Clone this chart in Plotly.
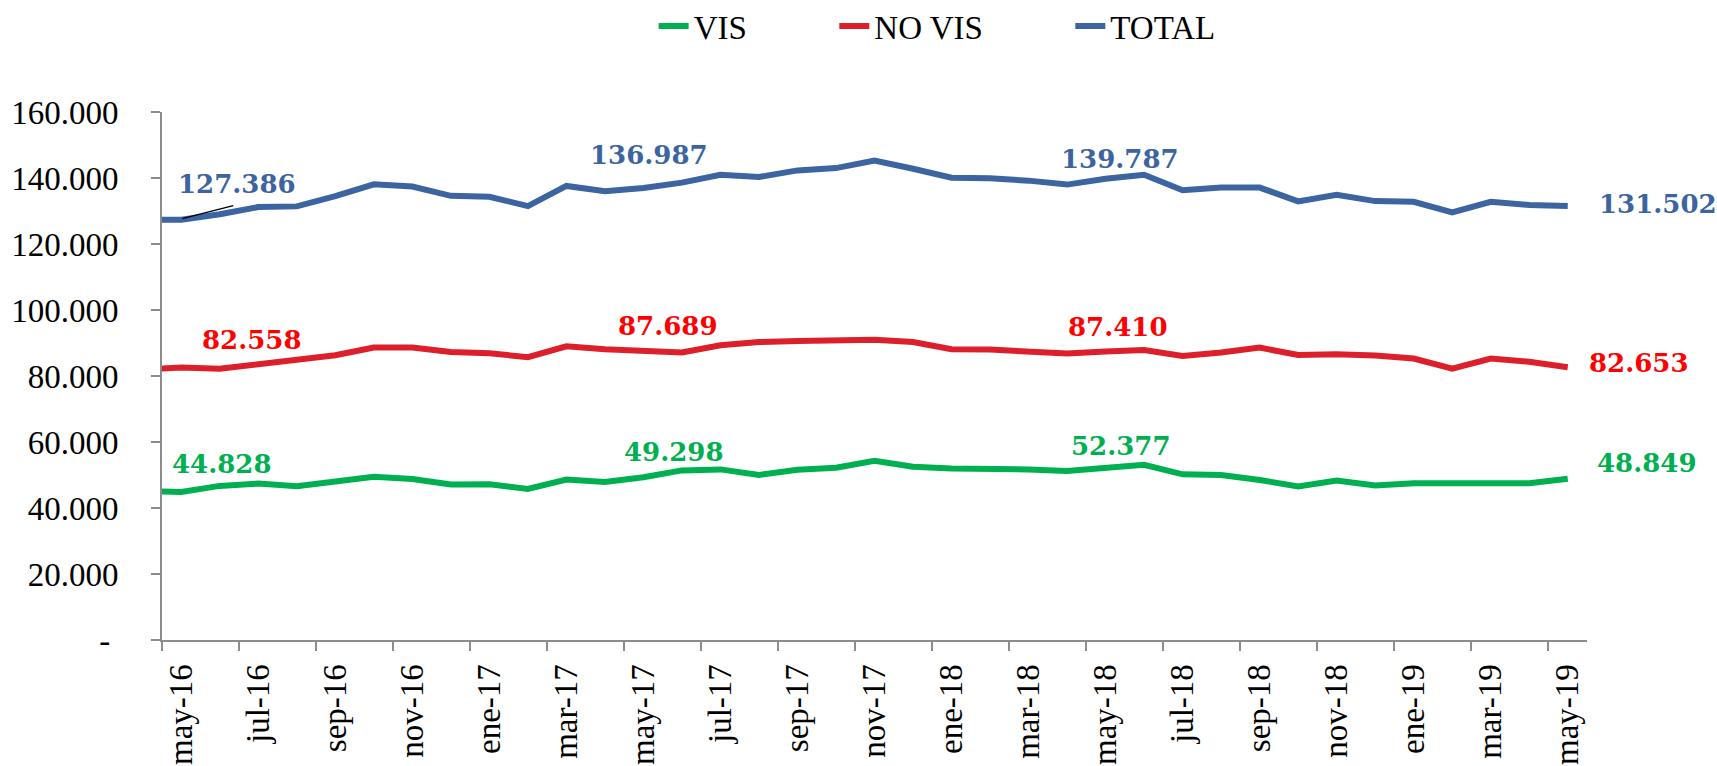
import plotly.graph_objects as go

# Monthly series (abr-16 .. may-19); the axis window starts at may-16
months = ["abr-16", "may-16", "jun-16", "jul-16", "ago-16", "sep-16", "oct-16", "nov-16", "dic-16",
          "ene-17", "feb-17", "mar-17", "abr-17", "may-17", "jun-17", "jul-17", "ago-17", "sep-17",
          "oct-17", "nov-17", "dic-17", "ene-18", "feb-18", "mar-18", "abr-18", "may-18", "jun-18",
          "jul-18", "ago-18", "sep-18", "oct-18", "nov-18", "dic-18", "ene-19", "feb-19", "mar-19",
          "abr-19", "may-19"]

vis = [45200, 44828, 46700, 47400, 46600, 48200, 49500, 48800, 47100, 47200, 45800, 48600, 47900,
       49298, 51400, 51700, 50000, 51600, 52200, 54300, 52500, 52000, 51900, 51700, 51200, 52377,
       53100, 50200, 50000, 48500, 46500, 48300, 46800, 47500, 47400, 47500, 47500, 48849]

no_vis = [82000, 82558, 82200, 83600, 84800, 86300, 88600, 88600, 87300, 86900, 85700, 89000, 88100,
          87689, 87100, 89300, 90300, 90600, 90800, 91000, 90300, 88100, 88000, 87500, 86800, 87410,
          87900, 86100, 87100, 88600, 86400, 86600, 86200, 85300, 82200, 85300, 84300, 82653]

total = [127300, 127386, 129000, 131200, 131400, 134500, 138100, 137400, 134600, 134300, 131500,
         137600, 136000, 136987, 138600, 141000, 140300, 142300, 143000, 145300, 142800, 140100,
         139900, 139200, 138000, 139787, 141000, 136300, 137100, 137100, 132900, 134900, 133000,
         132800, 129600, 132800, 131800, 131502]

y_ticks = [0, 20000, 40000, 60000, 80000, 100000, 120000, 140000, 160000]
y_ticktext = ["-\u00a0", "20.000", "40.000", "60.000", "80.000", "100.000", "120.000", "140.000", "160.000"]

# months carrying a value label
label_idx = [1, 13, 25, 37]

FONT = "Liberation Serif"
LABEL_FONT = "DejaVu Serif"
GREEN = "#00B050"
RED_LINE = "#DC1F2A"
RED_TEXT = "#FF0000"
BLUE = "#3B64A0"
AXIS = "#8C8C8C"
GAP = "\u00a0" * 10  # spacing between legend entries

x = list(range(len(months)))

fig = go.Figure()
for name, vals, color in [("VIS" + GAP, vis, GREEN), ("NO VIS" + GAP, no_vis, RED_LINE), ("TOTAL", total, BLUE)]:
    fig.add_trace(go.Scatter(x=x, y=vals, name=name, mode="lines",
                             line=dict(color=color, width=6), hoverinfo="skip"))


def fmt(v):
    return f"{v:,}".replace(",", ".")


# per-label pixel offsets (dx, dy, anchor)
offsets = {
    "TOTAL": [(56, 36, "center"), (6, 33, "center"), (14, 20, "center"), (29, 2, "left")],
    "NO VIS": [(71, 28, "center"), (25, 25, "center"), (12, 25, "center"), (19, 4, "left")],
    "VIS": [(41, 28, "center"), (31, 25, "center"), (15, 21, "center"), (27, 16, "left")],
}
series = {"TOTAL": (total, BLUE), "NO VIS": (no_vis, RED_TEXT), "VIS": (vis, GREEN)}

for key, (vals, color) in series.items():
    for i, (dx, dy, anchor) in zip(label_idx, offsets[key]):
        fig.add_annotation(x=i, y=vals[i], xref="x", yref="y", text=f"<b>{fmt(vals[i])}</b>",
                           showarrow=False, xanchor=anchor, yanchor="middle",
                           xshift=dx, yshift=dy,
                           font=dict(family=LABEL_FONT, size=26, color=color))

# leader line from the first TOTAL label to its point
fig.add_shape(type="line", xref="x", yref="y", xsizemode="pixel", ysizemode="pixel",
              xanchor=label_idx[0], yanchor=total[label_idx[0]],
              x0=1, x1=52, y0=1, y1=14, line=dict(color="black", width=1.5))

n = len(months)
fig.update_layout(
    width=1717, height=766,
    margin=dict(l=162, r=130, t=112, b=126),
    paper_bgcolor="white", plot_bgcolor="white",
    font=dict(family=FONT, size=33, color="black"),
    showlegend=True,
    legend=dict(orientation="h", x=0.345, xanchor="left", y=0.966, yref="container",
                yanchor="middle", font=dict(family=FONT, size=33, color="black"),
                bgcolor="rgba(0,0,0,0)"),
    xaxis=dict(range=[0.5, n - 0.5], showgrid=False, zeroline=False, automargin=False,
               showline=True, linecolor=AXIS, linewidth=2,
               tickmode="array", tickvals=x[1::2], ticktext=months[1::2],
               ticks="", ticklen=0, tickangle=-90, ticklabelstandoff=9,
               tickfont=dict(family=FONT, size=33, color="black"),
               minor=dict(tickmode="array", tickvals=[v + 0.5 for v in x[0:-1:2]],
                          ticks="outside", ticklen=9, tickcolor=AXIS, tickwidth=2, showgrid=False)),
    yaxis=dict(range=[0, 160000], showgrid=False, zeroline=False, automargin=False,
               showline=True, linecolor=AXIS, linewidth=2,
               tickmode="array", tickvals=y_ticks, ticktext=y_ticktext,
               ticks="outside", ticklen=9, tickcolor=AXIS, tickwidth=2,
               ticklabelstandoff=26,
               tickfont=dict(family=FONT, size=33, color="black")),
)

fig.write_html("out.html")
